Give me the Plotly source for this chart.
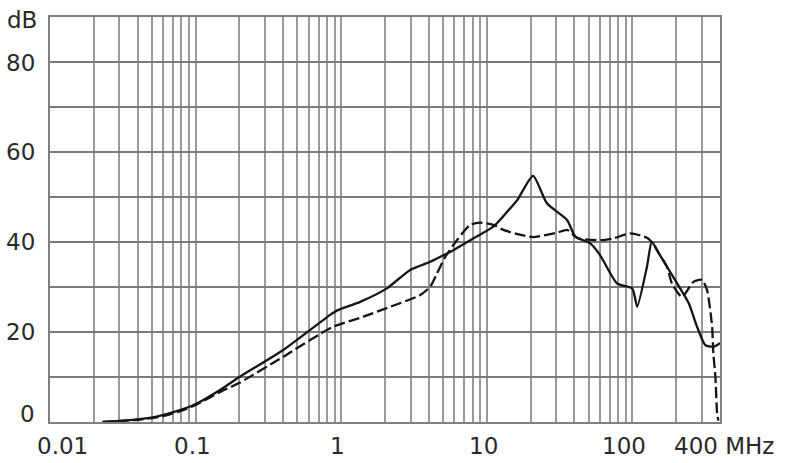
import math
import plotly.graph_objects as go

# Solid curve (frequency MHz, attenuation dB)
solid_f = [0.023, 0.035, 0.054, 0.074, 0.1, 0.15, 0.2, 0.4, 0.84, 0.94, 1.35, 2.06, 2.98, 4.09,
           5.0, 5.61, 8.07, 11.1, 14.5, 16.2, 20.8, 25.9, 35.6, 40.6, 51.4, 60, 78.5, 99.6, 104, 108,
           126, 136, 152, 173, 203, 244, 278, 317, 360, 400]
solid_db = [0, 0.4, 1.2, 2.4, 4.0, 7.3, 10.0, 16.0, 23.8, 24.8, 26.7, 29.7, 33.8, 35.6,
            37.0, 37.8, 40.8, 43.4, 47.5, 49.3, 54.7, 48.6, 44.9, 41.2, 39.7, 37.1, 30.8, 29.7, 27.8, 25.6,
            34.5, 40.0, 37.5, 34.5, 30.8, 26.4, 21.2, 17.1, 16.7, 17.5]

# Dashed curve
dashed_f = [0.023, 0.04, 0.06, 0.08, 0.1, 0.15, 0.2, 0.4, 0.86, 1.42, 2.17, 3.49, 4.09, 4.55, 5.19,
            6.24, 7.7, 9.0, 11.1, 13.0, 16.0, 20.9, 30.5, 35.7, 41.9, 60, 74, 96.9, 126.7, 139,
            152, 173, 187, 219, 264, 301, 326, 353, 360, 372, 382, 390]
dashed_db = [0, 0.5, 1.3, 2.5, 3.8, 6.8, 8.7, 14.5, 21.0, 23.4, 25.6, 28.2, 30.1, 33.0, 36.7,
             40.4, 43.8, 44.3, 43.8, 42.7, 41.8, 41.1, 42.1, 42.7, 40.9, 40.4, 40.8, 41.9, 40.9, 39.6,
             37.5, 34.5, 30.8, 27.8, 31.2, 31.6, 29.3, 21.2, 15.3, 10.0, 2.0, 0.3]

# Axis grid positions and tick labels
x_grid = [m * 10 ** e for e in (-2, -1, 0, 1) for m in range(1, 10)] + [100, 200, 300, 400]
x_label_vals = [0.01, 0.1, 1, 10, 100, 400]
x_label_text = ["0.01", "0.1", "1", "10", "100", "400 MHz"]
x_label_shift = [12, -3, -4, -3, -8, 4]
y_grid = list(range(0, 100, 10))
y_label_vals = [0, 20, 40, 60, 80, 90]
y_label_text = ["0", "20", "40", "60", "80", "dB"]
y_label_shift = [8, 0, 0, 0, -1, -3]

FONT = dict(family="DejaVu Sans", size=23, color="#2a2a2a")

fig = go.Figure()
fig.add_trace(go.Scatter(x=dashed_f, y=dashed_db, mode="lines",
                         line=dict(color="#151515", width=2.3, dash="11px,4px", shape="spline", smoothing=0.6),
                         showlegend=False, hoverinfo="skip"))
fig.add_trace(go.Scatter(x=solid_f, y=solid_db, mode="lines",
                         line=dict(color="#151515", width=2.3, shape="spline", smoothing=0.6),
                         showlegend=False, hoverinfo="skip"))

for v, t, s in zip(x_label_vals, x_label_text, x_label_shift):
    fig.add_annotation(x=math.log10(v), y=0, xref="x", yref="paper", text=t, showarrow=False,
                       xanchor="center", yanchor="middle", xshift=s, yshift=-24, font=FONT)
for v, t, s in zip(y_label_vals, y_label_text, y_label_shift):
    fig.add_annotation(x=0, y=v, xref="paper", yref="y", text=t, showarrow=False,
                       xanchor="right", yanchor="middle", xshift=-11 if t == "dB" else -13,
                       yshift=s, font=FONT)

fig.update_layout(
    width=790, height=463,
    margin=dict(l=50, r=70, t=17, b=41),
    paper_bgcolor="white", plot_bgcolor="white",
    font=FONT,
    xaxis=dict(type="log", range=[-2, math.log10(400)], tickvals=x_grid, showticklabels=False,
               showgrid=True, gridcolor="#9a9a9a", gridwidth=1.7, automargin=False,
               showline=True, linecolor="#808080", linewidth=2, mirror=True,
               ticks="", zeroline=False),
    yaxis=dict(range=[0, 90], tickvals=y_grid, showticklabels=False,
               showgrid=True, gridcolor="#7a7a7a", gridwidth=1.7, automargin=False,
               showline=True, linecolor="#808080", linewidth=2, mirror=True,
               ticks="", zeroline=False),
)

# remove the page's default 8px body margin so the figure fills the window exactly
fig.write_html("out.html", config={"displayModeBar": False},
               post_script="document.body.style.margin='0px';")
